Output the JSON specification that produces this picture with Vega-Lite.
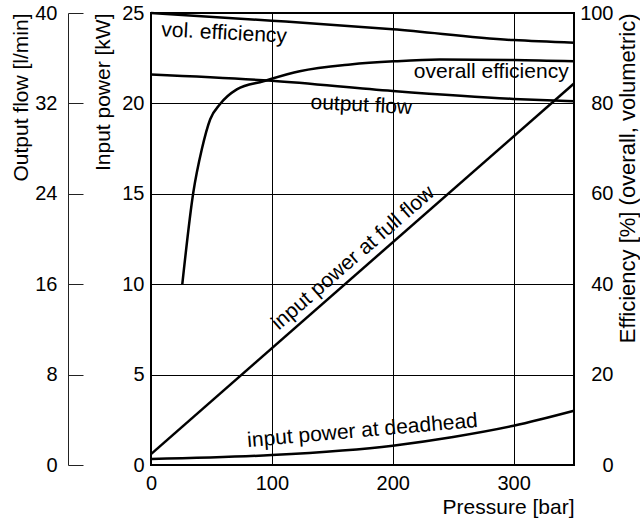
{
  "$schema": "https://vega.github.io/schema/vega-lite/v6.json",
  "width": 423,
  "height": 452,
  "autosize": {"type": "none"},
  "padding": {"left": 151, "top": 13, "right": 66, "bottom": 53},
  "background": "white",
  "config": {
    "font": "Liberation Sans",
    "view": {"stroke": "black", "strokeWidth": 2},
    "axis": {
      "labelFont": "Liberation Sans",
      "titleFont": "Liberation Sans",
      "labelFontSize": 20,
      "titleFontSize": 21,
      "titleFontWeight": "normal",
      "labelColor": "black",
      "titleColor": "black",
      "gridColor": "black",
      "gridOpacity": 1,
      "gridWidth": 1,
      "domain": false,
      "ticks": false,
      "labelFlush": false,
      "labelOverlap": false
    }
  },
  "datasets": {
    "flow": [
      {"pressure": 0, "flow": 34.56},
      {"pressure": 100, "flow": 34.0},
      {"pressure": 200, "flow": 33.1},
      {"pressure": 300, "flow": 32.4},
      {"pressure": 350, "flow": 32.2}
    ],
    "power": [
      {"series": "full flow", "pressure": 0, "kW": 0.6},
      {"series": "full flow", "pressure": 350, "kW": 21.1},
      {"series": "deadhead", "pressure": 0, "kW": 0.33},
      {"series": "deadhead", "pressure": 100, "kW": 0.55},
      {"series": "deadhead", "pressure": 200, "kW": 1.07},
      {"series": "deadhead", "pressure": 250, "kW": 1.55},
      {"series": "deadhead", "pressure": 300, "kW": 2.17},
      {"series": "deadhead", "pressure": 350, "kW": 3.0}
    ],
    "eff": [
      {"series": "vol", "pressure": 0, "pct": 100},
      {"series": "vol", "pressure": 100, "pct": 98.3},
      {"series": "vol", "pressure": 200, "pct": 96.4},
      {"series": "vol", "pressure": 300, "pct": 94.0},
      {"series": "vol", "pressure": 350, "pct": 93.4},
      {"series": "overall", "pressure": 25.9, "pct": 40},
      {"series": "overall", "pressure": 35, "pct": 60.3},
      {"series": "overall", "pressure": 42, "pct": 69.8},
      {"series": "overall", "pressure": 49, "pct": 76.5},
      {"series": "overall", "pressure": 57, "pct": 79.8},
      {"series": "overall", "pressure": 71, "pct": 83.1},
      {"series": "overall", "pressure": 93, "pct": 84.9},
      {"series": "overall", "pressure": 123, "pct": 87.1},
      {"series": "overall", "pressure": 165, "pct": 88.6},
      {"series": "overall", "pressure": 201, "pct": 89.3},
      {"series": "overall", "pressure": 239, "pct": 89.7},
      {"series": "overall", "pressure": 300, "pct": 89.6},
      {"series": "overall", "pressure": 350, "pct": 89.3}
    ],
    "labels": [
      {"label": "vol. efficiency", "pressure": 60.5, "kW": 23.87},
      {"label": "overall efficiency", "pressure": 281.5, "kW": 21.71},
      {"label": "output flow", "pressure": 174, "kW": 19.89},
      {"label": "input power at full flow", "pressure": 167.4, "kW": 11.44},
      {"label": "input power at deadhead", "pressure": 175, "kW": 1.88}
    ]
  },
  "encoding": {
    "x": {
      "field": "pressure",
      "type": "quantitative",
      "scale": {"domain": [0, 350], "nice": false},
      "axis": {
        "values": [0, 100, 200, 300],
        "title": "Pressure [bar]",
        "titleAnchor": "end",
        "labelPadding": 8,
        "titlePadding": 3,
        "grid": true
      }
    }
  },
  "layer": [
    {
      "data": {"name": "flow"},
      "mark": {"type": "line", "color": "black", "strokeWidth": 2.5, "interpolate": "monotone"},
      "encoding": {
        "y": {
          "field": "flow",
          "type": "quantitative",
          "scale": {"domain": [0, 40], "nice": false},
          "axis": {
            "orient": "left",
            "offset": 83,
            "values": [0, 8, 16, 24, 32, 40],
            "title": "Output flow [l/min]",
            "titleAnchor": "end",
            "titlePadding": 3,
            "domain": true,
            "domainColor": "#222",
            "domainWidth": 1,
            "ticks": true,
            "tickSize": -15,
            "tickColor": "#222",
            "tickWidth": 1,
            "labelPadding": 26,
            "grid": false
          }
        }
      }
    },
    {
      "data": {"name": "power"},
      "mark": {"type": "line", "color": "black", "strokeWidth": 2.5, "interpolate": "monotone"},
      "encoding": {
        "y": {
          "field": "kW",
          "type": "quantitative",
          "scale": {"domain": [0, 25], "nice": false},
          "axis": {
            "orient": "left",
            "values": [0, 5, 10, 15, 20, 25],
            "title": "Input power [kW]",
            "titleAnchor": "end",
            "titlePadding": 8,
            "labelPadding": 7,
            "grid": true
          }
        },
        "detail": {"field": "series"}
      }
    },
    {
      "data": {"name": "eff"},
      "mark": {"type": "line", "color": "black", "strokeWidth": 2.5, "interpolate": "monotone"},
      "encoding": {
        "y": {
          "field": "pct",
          "type": "quantitative",
          "scale": {"domain": [0, 100], "nice": false},
          "axis": {
            "orient": "right",
            "values": [0, 20, 40, 60, 80, 100],
            "title": "Efficiency [%] (overall, volumetric)",
            "titleFontSize": 22,
            "titleAnchor": "end",
            "titleAngle": 270,
            "titleBaseline": "top",
            "titlePadding": 4,
            "labelAlign": "right",
            "labelPadding": 39,
            "grid": false
          }
        },
        "detail": {"field": "series"}
      }
    },
    {
      "data": {"name": "labels"},
      "transform": [{"filter": {"field": "label", "equal": "vol. efficiency"}}],
      "mark": {"type": "text", "angle": 3, "fontSize": 21, "font": "Liberation Sans", "align": "center", "baseline": "middle", "color": "black"},
      "encoding": {
        "y": {"field": "kW", "type": "quantitative", "scale": {"domain": [0, 25], "nice": false}, "axis": null},
        "text": {"field": "label"}
      }
    },
    {
      "data": {"name": "labels"},
      "transform": [{"filter": {"field": "label", "equal": "overall efficiency"}}],
      "mark": {"type": "text", "angle": 0, "fontSize": 21, "font": "Liberation Sans", "align": "center", "baseline": "middle", "color": "black"},
      "encoding": {
        "y": {"field": "kW", "type": "quantitative", "scale": {"domain": [0, 25], "nice": false}, "axis": null},
        "text": {"field": "label"}
      }
    },
    {
      "data": {"name": "labels"},
      "transform": [{"filter": {"field": "label", "equal": "output flow"}}],
      "mark": {"type": "text", "angle": 3, "fontSize": 21, "font": "Liberation Sans", "align": "center", "baseline": "middle", "color": "black"},
      "encoding": {
        "y": {"field": "kW", "type": "quantitative", "scale": {"domain": [0, 25], "nice": false}, "axis": null},
        "text": {"field": "label"}
      }
    },
    {
      "data": {"name": "labels"},
      "transform": [{"filter": {"field": "label", "equal": "input power at full flow"}}],
      "mark": {"type": "text", "angle": 319, "fontSize": 21, "font": "Liberation Sans", "align": "center", "baseline": "middle", "color": "black"},
      "encoding": {
        "y": {"field": "kW", "type": "quantitative", "scale": {"domain": [0, 25], "nice": false}, "axis": null},
        "text": {"field": "label"}
      }
    },
    {
      "data": {"name": "labels"},
      "transform": [{"filter": {"field": "label", "equal": "input power at deadhead"}}],
      "mark": {"type": "text", "angle": 355, "fontSize": 21, "font": "Liberation Sans", "align": "center", "baseline": "middle", "color": "black"},
      "encoding": {
        "y": {"field": "kW", "type": "quantitative", "scale": {"domain": [0, 25], "nice": false}, "axis": null},
        "text": {"field": "label"}
      }
    }
  ],
  "resolve": {"scale": {"y": "independent"}, "axis": {"y": "independent"}}
}
